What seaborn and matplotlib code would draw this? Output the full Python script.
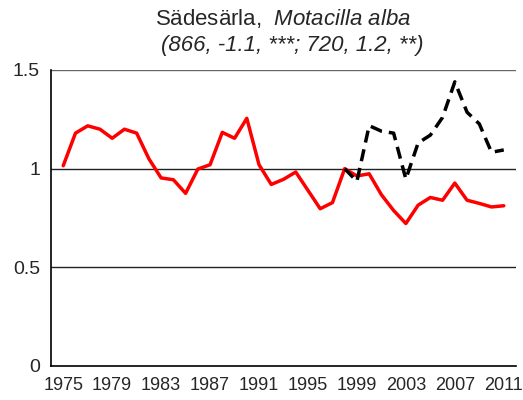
import matplotlib
matplotlib.use("Agg")
import matplotlib.pyplot as plt
import seaborn as sns
import pandas as pd

# Data
years_red = list(range(1975, 2012))
index_red = [1.015, 1.18, 1.217, 1.20, 1.154, 1.20, 1.18, 1.05, 0.953, 0.944,
             0.875, 0.998, 1.02, 1.184, 1.154, 1.255, 1.02, 0.92, 0.946, 0.983,
             0.89, 0.797, 0.828, 1.00, 0.963, 0.974, 0.868, 0.788, 0.722, 0.815,
             0.854, 0.84, 0.927, 0.84, 0.824, 0.806, 0.812]
years_black = list(range(1998, 2012))
index_black = [1.00, 0.936, 1.218, 1.19, 1.18, 0.947, 1.13, 1.17, 1.26, 1.44,
               1.286, 1.227, 1.083, 1.095]
xtick_years = list(range(1975, 2012, 4))
ytick_vals = [0, 0.5, 1, 1.5]
ytick_labels = ["0", "0.5", "1", "1.5"]
title_line1 = "Sädesärla,  $\\mathit{Motacilla\\ alba}$"
title_line2 = "(866, -1.1, ***; 720, 1.2, **)"

sns.set_style("white")
plt.rcParams["font.family"] = ["Liberation Sans", "DejaVu Sans"]
plt.rcParams["mathtext.fontset"] = "custom"
plt.rcParams["mathtext.it"] = "Liberation Sans:italic"
plt.rcParams["mathtext.rm"] = "Liberation Sans"

fig = plt.figure(figsize=(5.23, 4.0), dpi=100)
ax = fig.add_axes([51 / 523, 34 / 400, 465 / 523, 296 / 400])

df_red = pd.DataFrame({"year": years_red, "index": index_red})
df_black = pd.DataFrame({"year": years_black, "index": index_black})

grid_colors = {0.5: "#222222", 1: "#222222", 1.5: "#666666"}
for y in ytick_vals[1:]:
    ax.axhline(y, color=grid_colors[y], lw=1.0, zorder=1)

sns.lineplot(data=df_red, x="year", y="index", color="#ff0000", lw=2.5, ax=ax, zorder=3)
sns.lineplot(data=df_black, x="year", y="index", color="black", lw=2.5, ax=ax, zorder=4)
ax.lines[-1].set_dashes([3.5, 2.0])

ax.set_xlim(1974, 2012)
ax.set_ylim(0, 1.5)
ax.set_xticks(xtick_years)
ax.set_xticklabels([str(y) for y in xtick_years], fontsize=13)
ax.set_yticks(ytick_vals)
ax.set_yticklabels(ytick_labels, fontsize=14)
ax.tick_params(axis="y", direction="out", length=5, width=1, color="black", pad=3)
ax.tick_params(axis="x", direction="out", length=3, width=1, color="black", pad=5)
ax.set_xlabel("")
ax.set_ylabel("")

for side in ["top", "right"]:
    ax.spines[side].set_visible(False)
for side in ["left", "bottom"]:
    ax.spines[side].set_color("black")
    ax.spines[side].set_linewidth(1.2)

fig.text(283 / 523, 1 - 19 / 400, title_line1, ha="center", va="center", fontsize=16)
fig.text(292 / 523, 1 - 46 / 400, title_line2, ha="center", va="center", fontsize=16, style="italic")

fig.savefig("out.png", dpi=100)
